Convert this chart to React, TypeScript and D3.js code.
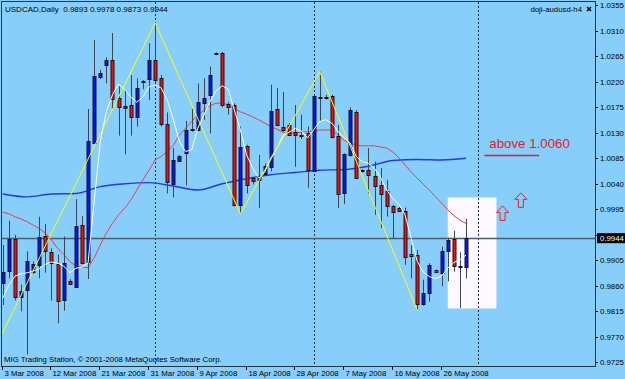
import React, { useEffect, useRef } from "react";
import * as d3 from "d3";

const titleText = "USDCAD,Daily  0.9893 0.9978 0.9873 0.9944";
const indicatorName = "doji-audusd-h4";
const copyrightText = "MIG Trading Station, © 2001-2008 MetaQuotes Software Corp.";

// daily bars, 3 Mar 2008 .. 30 May 2008 (incl. sunday bars)
const opens = [0.9865, 0.9886, 0.9942, 0.9841, 0.9851, 0.9884, 0.9898, 0.9948, 0.9919, 0.9899,
  0.9836, 0.9869, 0.9859, 0.9968, 0.9903, 1.0113, 1.0228, 1.0250, 1.0259, 1.0191,
  1.0173, 1.0179, 1.0157, 1.0222, 1.0225, 1.0258, 1.0227, 1.0145, 1.0040, 1.0081,
  1.0095, 1.0135, 1.0136, 1.0184, 1.0196, 1.0268, 1.0270, 1.0181, 1.0179, 1.0003,
  1.0106, 1.0050, 1.0047, 1.0058, 1.0070, 1.0172, 1.0140, 1.0144, 1.0132, 1.0127,
  1.0129, 1.0063, 1.0193, 1.0193, 1.0195, 1.0125, 1.0023, 1.0091, 1.0167, 1.0064,
  1.0065, 1.0053, 1.0038, 1.0028, 1.0001, 0.9998, 0.9992, 0.9916, 0.9915, 0.9828,
  0.9847, 0.9888, 0.9882, 0.9921, 0.9943, 0.9895, 0.9893];
const highs = [0.9932, 0.9975, 0.9950, 0.9862, 0.9921, 0.9903, 0.9982, 0.9969, 0.9926, 0.9915,
  0.9947, 0.9872, 1.0013, 0.9983, 1.0172, 1.0294, 1.0241, 1.0263, 1.0306, 1.0212,
  1.0206, 1.0232, 1.0226, 1.0223, 1.0288, 1.0324, 1.0232, 1.0166, 1.0103, 1.0091,
  1.0151, 1.0172, 1.0217, 1.0226, 1.0247, 1.0272, 1.0273, 1.0184, 1.0182, 1.0141,
  1.0109, 1.0052, 1.0091, 1.0076, 1.0215, 1.0209, 1.0202, 1.0147, 1.0179, 1.0162,
  1.0141, 1.0197, 1.0238, 1.0197, 1.0197, 1.0144, 1.0094, 1.0175, 1.0170, 1.0066,
  1.0103, 1.0079, 1.0068, 1.0047, 1.0003, 0.9999, 0.9998, 0.9932, 0.9923, 0.9871,
  0.9900, 0.9889, 0.9929, 0.9945, 0.9957, 0.9919, 0.9978];
const lows = [0.9826, 0.9873, 0.9834, 0.9815, 0.9739, 0.9881, 0.9873, 0.9883, 0.9834, 0.9794,
  0.9816, 0.9863, 0.9857, 0.9898, 0.9872, 1.0112, 1.0225, 1.0217, 1.0172, 1.0125,
  1.0092, 1.0125, 1.0141, 1.0207, 1.0188, 1.0219, 1.0141, 1.0023, 1.0016, 1.0079,
  1.0037, 1.0132, 1.0133, 1.0153, 1.0129, 1.0267, 1.0175, 1.0162, 1.0000, 0.9987,
  1.0023, 1.0039, 0.9997, 1.0056, 1.0062, 1.0142, 1.0132, 1.0125, 1.0070, 1.0119,
  1.0033, 1.0062, 1.0150, 1.0189, 1.0120, 0.9997, 1.0004, 1.0088, 1.0049, 1.0060,
  1.0023, 0.9985, 0.9962, 0.9982, 0.9944, 0.9991, 0.9897, 0.9873, 0.9818, 0.9825,
  0.9832, 0.9883, 0.9859, 0.9868, 0.9885, 0.9821, 0.9873];
const closes = [0.9885, 0.9943, 0.9839, 0.9851, 0.9903, 0.9898, 0.9947, 0.9921, 0.9900, 0.9834,
  0.9901, 0.9864, 0.9966, 0.9901, 1.0116, 1.0231, 1.0235, 1.0258, 1.0191, 1.0175,
  1.0177, 1.0158, 1.0209, 1.0222, 1.0258, 1.0222, 1.0145, 1.0043, 1.0082, 1.0089,
  1.0135, 1.0137, 1.0185, 1.0192, 1.0232, 1.0270, 1.0179, 1.0176, 1.0003, 1.0105,
  1.0038, 1.0045, 1.0054, 1.0072, 1.0168, 1.0144, 1.0135, 1.0127, 1.0126, 1.0125,
  1.0063, 1.0195, 1.0193, 1.0193, 1.0123, 1.0023, 1.0092, 1.0170, 1.0051, 1.0062,
  1.0056, 1.0035, 1.0023, 1.0002, 0.9990, 0.9993, 0.9910, 0.9913, 0.9829, 0.9847,
  0.9896, 0.9885, 0.9921, 0.9941, 0.9896, 0.9893, 0.9944];

// moving averages
const maFast = [0.9838, 0.9861, 0.9877, 0.9881, 0.9883, 0.9886, 0.9890, 0.9898, 0.9902, 0.9900,
  0.9895, 0.9883, 0.9891, 0.9893, 0.9900, 1.0008, 1.0114, 1.0167, 1.0197, 1.0216,
  1.0207, 1.0193, 1.0184, 1.0193, 1.0211, 1.0214, 1.0209, 1.0188, 1.0153, 1.0114,
  1.0097, 1.0100, 1.0138, 1.0161, 1.0185, 1.0204, 1.0213, 1.0207, 1.0170, 1.0135,
  1.0091, 1.0068, 1.0050, 1.0061, 1.0086, 1.0103, 1.0126, 1.0131, 1.0138, 1.0133,
  1.0121, 1.0135, 1.0150, 1.0153, 1.0147, 1.0133, 1.0121, 1.0112, 1.0088, 1.0079,
  1.0076, 1.0067, 1.0051, 1.0029, 1.0014, 1.0004, 0.9985, 0.9944, 0.9903, 0.9884,
  0.9876, 0.9873, 0.9877, 0.9891, 0.9901, 0.9906, 0.9914];
const maMid = [0.9990, 0.9987, 0.9982, 0.9978, 0.9973, 0.9967, 0.9961, 0.9953, 0.9941, 0.9926,
  0.9916, 0.9903, 0.9895, 0.9893, 0.9892, 0.9909, 0.9932, 0.9953, 0.9970, 0.9985,
  0.9997, 1.0011, 1.0029, 1.0047, 1.0064, 1.0082, 1.0088, 1.0097, 1.0108, 1.0126,
  1.0138, 1.0150, 1.0161, 1.0170, 1.0178, 1.0182, 1.0183, 1.0179, 1.0173, 1.0167,
  1.0163, 1.0158, 1.0153, 1.0147, 1.0141, 1.0136, 1.0131, 1.0129, 1.0130, 1.0131,
  1.0132, 1.0133, 1.0135, 1.0135, 1.0135, 1.0126, 1.0117, 1.0112, 1.0108, 1.0107,
  1.0107, 1.0107, 1.0105, 1.0103, 1.0096, 1.0086, 1.0073, 1.0061, 1.0050, 1.0039,
  1.0029, 1.0017, 1.0006, 0.9994, 0.9984, 0.9976, 0.9970];
const maSlowBars = [0, 4, 8, 12, 16, 20, 24, 28, 32, 36, 40, 44, 48, 52, 56, 60, 64, 68, 72, 76];
const maSlow = [1.0022, 1.0017, 1.0022, 1.0023, 1.0035, 1.0040, 1.0042, 1.0036, 1.0029, 1.0040,
  1.0049, 1.0056, 1.0060, 1.0064, 1.0065, 1.0071, 1.0081, 1.0083, 1.0082, 1.0085];

const zigzagBars = [-2, 25, 39, 52, 68];
const zigzagPrices = [0.9734, 1.0324, 0.9987, 1.0238, 0.9817];

const tickBars = [0, 8, 16, 24, 32, 40, 48, 56, 64, 72];
const tickLabels = ["3 Mar 2008", "12 Mar 2008", "21 Mar 2008", "31 Mar 2008", "9 Apr 2008",
  "18 Apr 2008", "28 Apr 2008", "7 May 2008", "16 May 2008", "26 May 2008"];
const priceTicks = [1.0355, 1.0310, 1.0265, 1.0220, 1.0175, 1.0130, 1.0085, 1.0040, 0.9995,
  0.9950, 0.9905, 0.9860, 0.9815, 0.9770, 0.9725];
const separatorBars = [25, 51, 78];
const lastPrice = 0.9944;

// objects drawn on the chart
const boxBars = [73, 81];
const boxPrices = [1.0016, 0.9820];
const arrowBars = [82, 85];
const arrowPrices = [1.0001, 1.0024];
const noteText = "above 1.0060";
const noteBars = [79, 88];
const notePrice = 1.0090;

const W = 625;
const H = 379;
const left = 2, right = 595, top = 2, bottom = 366;

function App() {
  const ref = useRef(null);

  useEffect(() => {
    drawChart();
  }, []);

  const drawChart = () => {
    d3.select(ref.current).select("svg").remove();

    const svg = d3.select(ref.current)
      .append("svg")
      .attr("width", W)
      .attr("height", H)
      .style("display", "block");

    const x = d3.scaleLinear().domain([0, 76]).range([2.7, 466]);
    const y = d3.scaleLinear().domain([0.9725, 1.0355]).range([362.3, 5.3]);
    const font = "'Liberation Sans', Arial, sans-serif";

    svg.append("rect").attr("width", W).attr("height", H).attr("fill", "#87cefa");

    svg.append("clipPath").attr("id", "plot")
      .append("rect").attr("x", left).attr("y", top)
      .attr("width", right - left).attr("height", bottom - top);

    const g = svg.append("g").attr("clip-path", "url(#plot)");

    // rectangle object
    g.append("rect")
      .attr("x", x(boxBars[0]))
      .attr("y", y(boxPrices[0]))
      .attr("width", x(boxBars[1]) - x(boxBars[0]))
      .attr("height", y(boxPrices[1]) - y(boxPrices[0]))
      .attr("fill", "#fcf8fc");

    // period separators
    separatorBars.forEach((b) => {
      const xs = Math.round(x(b)) + 0.5;
      g.append("line")
        .attr("x1", xs).attr("x2", xs).attr("y1", top).attr("y2", bottom)
        .attr("stroke", "#1c2c44").attr("stroke-dasharray", "2,2");
    });

    // current price line
    const yl = Math.round(y(lastPrice)) + 0.5;
    g.append("line")
      .attr("x1", left).attr("x2", right).attr("y1", yl).attr("y2", yl)
      .attr("stroke", "#4c5c68").attr("stroke-width", 1.5);

    // slow MA
    const slowLine = d3.line().x((d) => x(d[0])).y((d) => y(d[1])).curve(d3.curveMonotoneX);
    g.append("path")
      .attr("d", slowLine(maSlowBars.map((b, i) => [b, maSlow[i]])))
      .attr("fill", "none").attr("stroke", "#2436f0").attr("stroke-width", 1.4);

    // mid MA
    const line = d3.line().x((d, i) => x(i)).y((d) => y(d));
    g.append("path")
      .attr("d", line(maMid))
      .attr("fill", "none").attr("stroke", "#e8404c").attr("stroke-width", 1);

    // candles
    const bars = closes.map((c, i) => ({ i, o: opens[i], h: highs[i], l: lows[i], c }));

    g.selectAll(".wick").data(bars).enter().append("line")
      .attr("x1", (d) => Math.round(x(d.i)) + 0.5)
      .attr("x2", (d) => Math.round(x(d.i)) + 0.5)
      .attr("y1", (d) => y(d.h))
      .attr("y2", (d) => y(d.l))
      .attr("stroke", "#3c4650").attr("stroke-width", 1);

    g.selectAll(".body").data(bars).enter().append("rect")
      .attr("x", (d) => Math.round(x(d.i)) - 1)
      .attr("y", (d) => Math.round(y(Math.max(d.o, d.c))) + 0.5)
      .attr("width", 3)
      .attr("height", (d) => Math.max(1, Math.round(Math.abs(y(d.o) - y(d.c)))))
      .attr("fill", (d) => (d.c >= d.o ? "#0a14ff" : "#ff0a0a"))
      .attr("stroke", "#141414").attr("stroke-width", 1);

    // fast MA
    g.append("path")
      .attr("d", line(maFast))
      .attr("fill", "none").attr("stroke", "#ffffff").attr("stroke-width", 1);

    // zigzag
    const zz = d3.line().x((d) => x(d[0])).y((d) => y(d[1]));
    g.append("path")
      .attr("d", zz(zigzagBars.map((b, i) => [b, zigzagPrices[i]])))
      .attr("fill", "none").attr("stroke", "#ffff00").attr("stroke-width", 1);

    // arrows
    arrowBars.forEach((b, i) => {
      const cx = x(b);
      const ty = y(arrowPrices[i]);
      const p = d3.path();
      p.moveTo(cx, ty);
      p.lineTo(cx + 6, ty + 6.5);
      p.lineTo(cx + 2.5, ty + 6.5);
      p.lineTo(cx + 2.5, ty + 14.5);
      p.lineTo(cx - 2.5, ty + 14.5);
      p.lineTo(cx - 2.5, ty + 6.5);
      p.lineTo(cx - 6, ty + 6.5);
      p.closePath();
      g.append("path").attr("d", p.toString())
        .attr("fill", "none").attr("stroke", "#f02020").attr("stroke-width", 1);
    });

    // text note + line
    g.append("text")
      .attr("x", x(noteBars[0]) + 5)
      .attr("y", y(notePrice) - 7)
      .attr("font-family", font)
      .attr("font-size", 13.3)
      .attr("fill", "#f01818")
      .text(noteText);
    g.append("line")
      .attr("x1", x(noteBars[0])).attr("x2", x(noteBars[1]))
      .attr("y1", y(notePrice)).attr("y2", y(notePrice))
      .attr("stroke", "#f01818").attr("stroke-width", 1.6);

    // frame
    svg.append("rect")
      .attr("x", left - 0.5).attr("y", top - 0.5)
      .attr("width", right - left + 1).attr("height", bottom - top + 1)
      .attr("fill", "none").attr("stroke", "#2a3440").attr("stroke-width", 1);

    // price axis
    priceTicks.forEach((p) => {
      const yy = Math.round(y(p)) + 0.5;
      svg.append("line").attr("x1", right).attr("x2", right + 3)
        .attr("y1", yy).attr("y2", yy).attr("stroke", "#000");
      svg.append("text")
        .attr("x", right + 5).attr("y", yy + 2.8)
        .attr("font-family", font).attr("font-size", 7.8)
        .attr("fill", "#000").text(p.toFixed(4));
    });

    // last price label
    svg.append("rect")
      .attr("x", right + 2).attr("y", y(lastPrice) - 5)
      .attr("width", 28).attr("height", 10).attr("fill", "#000");
    svg.append("text")
      .attr("x", right + 5).attr("y", y(lastPrice) + 2.8)
      .attr("font-family", font).attr("font-size", 7.8)
      .attr("fill", "#fff").text(lastPrice.toFixed(4));

    // time axis
    tickBars.forEach((b, i) => {
      const xx = Math.round(x(b)) - 0.5;
      svg.append("line").attr("x1", xx).attr("x2", xx)
        .attr("y1", bottom).attr("y2", bottom + 4).attr("stroke", "#000");
      svg.append("text")
        .attr("x", xx + 2).attr("y", bottom + 10)
        .attr("font-family", font).attr("font-size", 7.8)
        .attr("fill", "#000").text(tickLabels[i]);
    });

    // header texts
    svg.append("text").attr("x", 5).attr("y", 12)
      .attr("font-family", font).attr("font-size", 8)
      .attr("fill", "#000").style("white-space", "pre").text(titleText);
    svg.append("text").attr("x", 582).attr("y", 12).attr("text-anchor", "end")
      .attr("font-family", font).attr("font-size", 7.8)
      .attr("fill", "#000").text(indicatorName);
    svg.append("path").attr("d", "M587,7L591,11M591,7L587,11")
      .attr("stroke", "#000").attr("stroke-width", 1.5);
    svg.append("text").attr("x", 4).attr("y", 362)
      .attr("font-family", font).attr("font-size", 7.8)
      .attr("fill", "#000").text(copyrightText);
  };

  return <div ref={ref} style={{ position: "absolute", left: 0, top: 0 }}></div>;
}

export default App;
